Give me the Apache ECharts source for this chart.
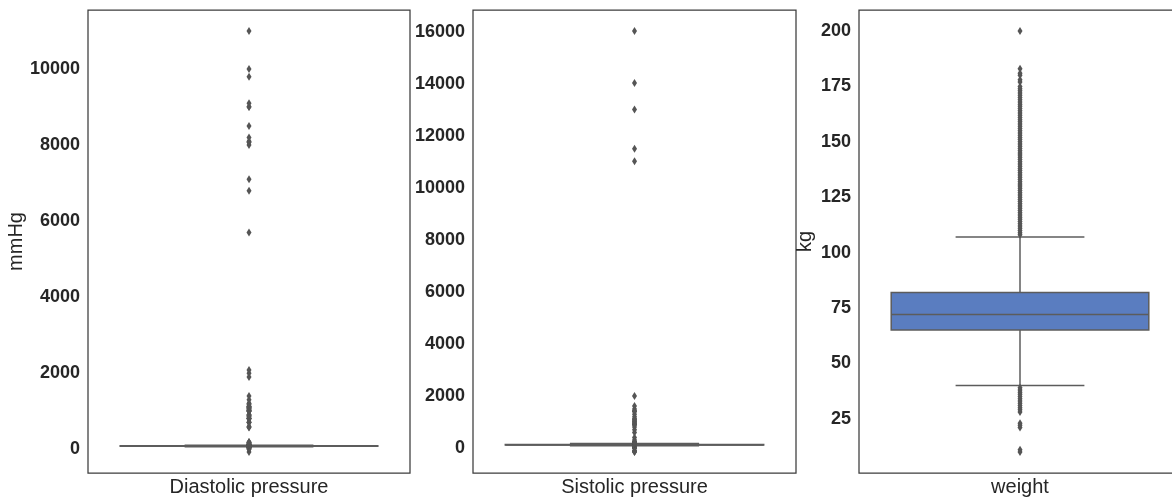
<!DOCTYPE html>
<html>
<head>
<meta charset="utf-8">
<script src="https://cdn.jsdelivr.net/npm/echarts@6/dist/echarts.min.js"></script>
<style>
html,body{margin:0;padding:0;background:#fff;}
#chart{width:1172px;height:498px;}
</style>
</head>
<body>
<div id="chart"></div>
<script>
// ---- Data ----
const categories = ['Diastolic pressure', 'Sistolic pressure', 'weight'];
const axisNames = ['mmHg', '', 'kg'];

// [lower whisker, Q1, median, Q3, upper whisker]
const diastolicBox = [65, 80, 80, 90, 105];
const systolicBox = [90, 120, 120, 140, 170];
const weightBox = [40, 65, 72, 82, 107];

const diastolicOutliers = [-70, 0, 10, 20, 30, 40, 45, 50, 52, 53, 54, 55, 56, 57, 58, 59, 60, 61, 62, 63, 64,
  106, 107, 108, 109, 110, 112, 113, 115, 118, 119, 120, 122, 125, 130, 135, 140, 150, 160, 170, 180, 182, 190,
  570, 585, 602, 700, 708, 709, 710, 800, 801, 802, 809, 810, 820, 850, 870, 880, 900, 902, 910,
  1000, 1001, 1007, 1008, 1011, 1022, 1033, 1044, 1066, 1077, 1088, 1100, 1110, 1111, 1120, 1125, 1139, 1177,
  1200, 1211, 1300, 1400, 1900, 2000, 2088, 5700, 6800, 7100, 8000, 8077, 8079, 8100, 8200, 8500,
  9000, 9011, 9100, 9800, 10000, 11000];

const systolicOutliers = [-150, -140, -120, -115, -100, 1, 7, 10, 11, 12, 13, 14, 15, 16, 17, 20, 24, 60, 70, 80, 85, 86, 87, 88, 89,
  171, 172, 173, 174, 175, 176, 177, 178, 179, 180, 181, 182, 184, 185, 187, 188, 190, 191, 193, 195, 196, 197, 199,
  200, 202, 207, 210, 215, 220, 230, 240, 309, 401, 600, 701, 806, 902, 906, 907, 909, 960,
  1000, 1020, 1066, 1110, 1130, 1205, 1300, 1400, 1409, 1420, 1500, 1620, 2000,
  11020, 11500, 13010, 14020, 16020];

const weightOutliers = [10, 11, 21, 22, 23, 28, 29, 30, 31, 32, 33, 34, 35, 36, 37, 38, 39,
  108, 109, 110, 111, 112, 113, 114, 115, 116, 117, 118, 119, 120, 121, 122, 123, 124, 125, 126, 127, 128, 129, 130,
  131, 132, 133, 134, 135, 136, 137, 138, 139, 140, 141, 142, 143, 144, 145, 146, 147, 148, 149, 150,
  151, 152, 153, 154, 155, 156, 157, 158, 159, 160, 161, 162, 163, 164, 165, 166, 167, 168, 169, 170,
  171, 172, 173, 174, 175, 177, 178, 180, 181, 183, 200];

const diastolicTicks = [0, 2000, 4000, 6000, 8000, 10000];
const systolicTicks = [0, 2000, 4000, 6000, 8000, 10000, 12000, 14000, 16000];
const weightTicks = [25, 50, 75, 100, 125, 150, 175, 200];

// axis ranges (data range with 5% margins)
const diastolicRange = [-623.5, 11553.5];
const systolicRange = [-958.5, 16828.5];
const weightRange = [0.5, 209.5];

// ---- Styles ----
const lineColor = '#5c5c5c';
const boxColor = '#5a7dc0';
const textColor = '#262626';
const frameColor = '#3c3c3c';
const font = 'Liberation Sans, Arial, sans-serif';

const boxes = [diastolicBox, systolicBox, weightBox];
const outliers = [diastolicOutliers, systolicOutliers, weightOutliers];
const ticks = [diastolicTicks, systolicTicks, weightTicks];
const ranges = [diastolicRange, systolicRange, weightRange];
const gridDefs = [
  {left: 88, top: 10, width: 322, height: 463},
  {left: 473, top: 10, width: 323, height: 463},
  {left: 859, top: 10, width: 322, height: 463}
];
const nameGaps = [61, 0, 44];

function renderBox(params, api) {
  const x = api.value(0);
  const lo = api.coord([x, api.value(1)]);
  const q1 = api.coord([x, api.value(2)]);
  const med = api.coord([x, api.value(3)]);
  const q3 = api.coord([x, api.value(4)]);
  const hi = api.coord([x, api.value(5)]);
  const band = api.size([1, 0])[0];
  const bw = band * 0.8, cw = band * 0.4;
  const cx = lo[0];
  const ls = {stroke: lineColor, lineWidth: 1.5, fill: null};
  return {
    type: 'group',
    children: [
      {type: 'line', shape: {x1: cx, y1: q3[1], x2: cx, y2: hi[1]}, style: ls},
      {type: 'line', shape: {x1: cx, y1: q1[1], x2: cx, y2: lo[1]}, style: ls},
      {type: 'line', shape: {x1: cx - cw / 2, y1: hi[1], x2: cx + cw / 2, y2: hi[1]}, style: ls},
      {type: 'line', shape: {x1: cx - cw / 2, y1: lo[1], x2: cx + cw / 2, y2: lo[1]}, style: ls},
      {type: 'rect', shape: {x: cx - bw / 2, y: q3[1], width: bw, height: q1[1] - q3[1]},
        style: {fill: boxColor, stroke: lineColor, lineWidth: 1.5}},
      {type: 'line', shape: {x1: cx - bw / 2, y1: med[1], x2: cx + bw / 2, y2: med[1]}, style: ls}
    ]
  };
}

const option = {
  animation: false,
  backgroundColor: '#ffffff',
  grid: gridDefs.map(g => Object.assign({show: true, borderColor: frameColor, borderWidth: 1.25,
    backgroundColor: 'transparent', containLabel: false, outerBoundsMode: 'none'}, g)),
  xAxis: categories.map((c, i) => ({
    type: 'category', gridIndex: i, data: [c], boundaryGap: true,
    axisLine: {show: false}, axisTick: {show: false},
    axisLabel: {color: textColor, fontSize: 20, fontFamily: font, margin: 4}
  })),
  yAxis: categories.map((c, i) => ({
    type: 'value', gridIndex: i, min: ranges[i][0], max: ranges[i][1],
    name: axisNames[i], nameLocation: 'middle', nameGap: nameGaps[i], nameRotate: 90,
    nameTextStyle: {color: textColor, fontSize: 20, fontFamily: font},
    axisLine: {show: false}, axisTick: {show: false}, splitLine: {show: false},
    axisLabel: {color: textColor, fontSize: 18, fontWeight: 'bold', fontFamily: font, margin: 8,
      customValues: ticks[i], formatter: v => String(v)}
  })),
  series: [].concat(
    categories.map((c, i) => ({
      type: 'custom', xAxisIndex: i, yAxisIndex: i, renderItem: renderBox,
      data: [[0].concat(boxes[i])], z: 2
    })),
    categories.map((c, i) => ({
      type: 'scatter', xAxisIndex: i, yAxisIndex: i,
      symbol: 'diamond', symbolSize: [5, 8],
      itemStyle: {color: '#555555', opacity: 1},
      data: outliers[i].map(v => [0, v]), z: 3
    }))
  )
};

const chart = echarts.init(document.getElementById('chart'), null, {renderer: 'canvas'});
chart.setOption(option);
</script>
</body>
</html>
